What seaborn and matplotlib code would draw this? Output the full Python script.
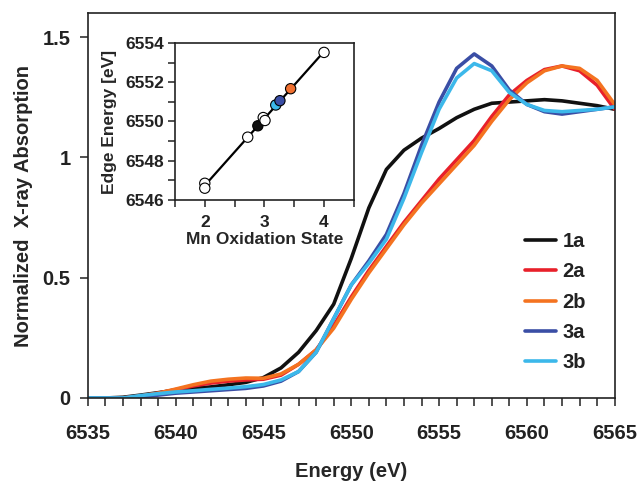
import numpy as np
import pandas as pd
import matplotlib
matplotlib.use('Agg')
import matplotlib.pyplot as plt
import seaborn as sns
from matplotlib.ticker import MultipleLocator, FormatStrFormatter

# ---------------------------------------------------------------------------
# XANES spectra (1 eV grid)
# ---------------------------------------------------------------------------
energy = list(range(6535, 6566))

abs_1a = [0, 0, 0.003, 0.012, 0.022, 0.033, 0.040, 0.046, 0.055, 0.065,
          0.085, 0.125, 0.19, 0.28, 0.39, 0.58, 0.79, 0.95, 1.03, 1.08,
          1.12, 1.165, 1.20, 1.225, 1.23, 1.235, 1.24, 1.235, 1.225, 1.215, 1.2]
abs_2a = [0, 0, 0, 0.008, 0.02, 0.035, 0.05, 0.062, 0.07, 0.075,
          0.078, 0.095, 0.14, 0.20, 0.30, 0.42, 0.53, 0.63, 0.73, 0.82,
          0.91, 0.99, 1.07, 1.17, 1.26, 1.32, 1.365, 1.38, 1.36, 1.30, 1.20]
abs_2b = [0, 0, 0, 0.008, 0.02, 0.037, 0.055, 0.07, 0.078, 0.083,
          0.082, 0.10, 0.14, 0.20, 0.29, 0.41, 0.52, 0.62, 0.72, 0.81,
          0.89, 0.97, 1.05, 1.15, 1.24, 1.31, 1.36, 1.38, 1.37, 1.32, 1.22]
abs_3a = [0, 0, 0, 0.005, 0.012, 0.02, 0.025, 0.03, 0.035, 0.04,
          0.05, 0.07, 0.11, 0.19, 0.33, 0.47, 0.57, 0.68, 0.85, 1.05,
          1.23, 1.37, 1.43, 1.38, 1.28, 1.22, 1.19, 1.18, 1.19, 1.20, 1.21]
abs_3b = [0, 0, 0, 0.01, 0.018, 0.025, 0.03, 0.036, 0.041, 0.047,
          0.056, 0.075, 0.11, 0.19, 0.33, 0.47, 0.56, 0.66, 0.83, 1.02,
          1.20, 1.33, 1.39, 1.36, 1.27, 1.22, 1.195, 1.19, 1.195, 1.20, 1.21]

samples = ['1a', '2a', '2b', '3a', '3b']
sample_colors = ['#111111', '#e8202a', '#f47320', '#3a4ea5', '#3cb8ea']

# ---------------------------------------------------------------------------
# Inset: edge energy vs Mn oxidation state
# ---------------------------------------------------------------------------
ox_state = [2.0, 2.0, 2.72, 2.89, 2.98, 3.01, 3.19, 3.26, 3.44, 4.0]
edge_energy = [6546.85, 6546.6, 6549.2, 6549.78, 6550.2, 6550.05,
               6550.84, 6551.06, 6551.67, 6553.52]
point_fill = ['white', 'white', 'white', '#111111', 'white', 'white',
              '#3cb8ea', '#3a4ea5', '#f07030', 'white']

sns.set_style('ticks')
plt.rcParams['font.family'] = ['Liberation Sans', 'DejaVu Sans']
plt.rcParams['font.weight'] = 'bold'
plt.rcParams['axes.labelweight'] = 'bold'
plt.rcParams['axes.edgecolor'] = '#222222'
plt.rcParams['axes.linewidth'] = 1.2
plt.rcParams['xtick.color'] = '#222222'
plt.rcParams['ytick.color'] = '#222222'
plt.rcParams['text.color'] = '#222222'

long_df = pd.concat([
    pd.DataFrame({'energy': energy, 'absorption': vals, 'sample': name})
    for name, vals in zip(samples, [abs_1a, abs_2a, abs_2b, abs_3a, abs_3b])
])

fig = plt.figure(figsize=(6.41, 4.83), dpi=100)
ax = fig.add_axes([0.137, 0.176, 0.822, 0.797])

sns.lineplot(data=long_df, x='energy', y='absorption', hue='sample',
             palette=dict(zip(samples, sample_colors)), linewidth=2.6,
             estimator=None, sort=False, ax=ax)

ax.set_xlim(6535, 6565)
ax.set_ylim(0, 1.6)
ax.xaxis.set_major_locator(MultipleLocator(5))
ax.xaxis.set_minor_locator(MultipleLocator(1))
ax.set_yticks([0, 0.5, 1, 1.5])
ax.yaxis.set_major_formatter(FormatStrFormatter('%g'))
ax.tick_params(axis='both', which='both', direction='out', length=5.5,
               width=1.1, labelsize=14.5)
ax.tick_params(axis='x', which='major', pad=13)
ax.tick_params(axis='y', which='major', pad=7)
ax.set_xlabel('Energy (eV)', fontsize=14.5, labelpad=14)
ax.set_ylabel('Normalized  X-ray Absorption', fontsize=14.5, labelpad=7)

handles, labels = ax.get_legend_handles_labels()
ax.legend(handles, labels, loc='lower right', bbox_to_anchor=(0.98, 0.02),
          frameon=False, fontsize=14.5, handlelength=1.5, handletextpad=0.35,
          labelspacing=0.56)

# inset
ins = fig.add_axes([0.273, 0.586, 0.279, 0.325])
sns.regplot(x=ox_state, y=edge_energy, scatter=False, ci=None,
            color='black', line_kws={'linewidth': 1.6}, ax=ins)
sns.scatterplot(x=ox_state, y=edge_energy, c=point_fill, s=55,
                edgecolor='black', linewidth=0.8, zorder=3, ax=ins)
ins.set_xlim(1.5, 4.5)
ins.set_ylim(6546, 6554)
ins.xaxis.set_major_locator(MultipleLocator(1))
ins.xaxis.set_minor_locator(MultipleLocator(0.5))
ins.yaxis.set_major_locator(MultipleLocator(2))
ins.yaxis.set_minor_locator(MultipleLocator(1))
ins.yaxis.set_major_formatter(FormatStrFormatter('%d'))
ins.tick_params(axis='both', which='both', direction='out', length=5,
                width=1.1, labelsize=12.5)
ins.tick_params(axis='x', which='major', pad=6)
ins.tick_params(axis='y', which='major', pad=3)
ins.set_xlabel('Mn Oxidation State', fontsize=12.5, labelpad=1)
ins.set_ylabel('Edge Energy [eV]', fontsize=12.5, labelpad=6)

fig.savefig('out.png', dpi=100)
